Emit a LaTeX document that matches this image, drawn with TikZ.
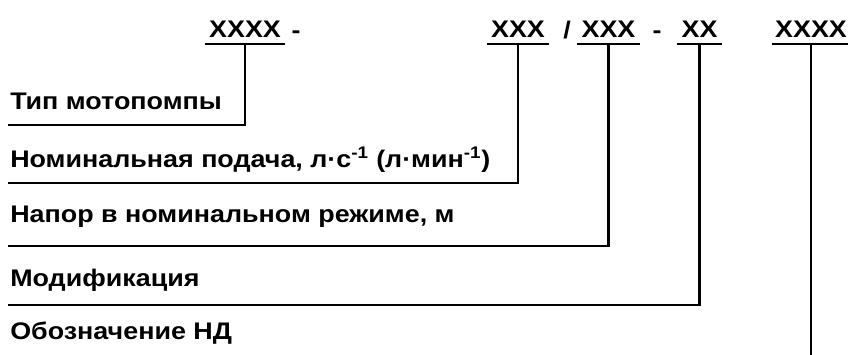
\documentclass[tikz,border=0pt]{standalone}
\usepackage{fontspec}
\setmainfont[FakeStretch=1.12]{Liberation Sans}
\begin{document}
\begin{tikzpicture}[x=0.75pt,y=-0.75pt,
  rule/.style={line width=1.6pt},
  txt/.style={font=\fontsize{18}{20}\selectfont\bfseries, inner sep=0pt},
  code/.style={txt, anchor=south, inner ysep=5pt, text depth=0pt},
  sepmark/.style={txt, anchor=base},
  lbl/.style={txt, anchor=base west}]
\useasboundingbox (0,0) rectangle (848,354);

% designation fields, each underlined
\node[code, minimum width=60pt]    (c1) at (245,44)   {XXXX};
\node[code, minimum width=46.5pt]  (c2) at (518,44)   {XXX};
\node[code, minimum width=47.25pt] (c3) at (608.5,44) {XXX};
\node[code, minimum width=33.75pt] (c4) at (699.5,44) {XX};
\node[code, minimum width=58.5pt]  (c5) at (811,44)   {XXXX};

% separators between fields
\node[sepmark] (s1) at (296,38) {-};
\node[sepmark] (s2) at (567,38) {/};
\node[sepmark] (s3) at (657,38) {-};

% explanations
\node[lbl] (t1) at (10,109) {Тип мотопомпы};
\node[lbl] (t2) at (10,167) {Номинальная подача, л·с\textsuperscript{-1} (л·мин\textsuperscript{-1})};
\node[lbl] (t3) at (10,222) {Напор в номинальном режиме, м};
\node[lbl] (t4) at (10,286) {Модификация};
\node[lbl] (t5) at (10,339) {Обозначение НД};

% ends of the leader lines
\coordinate (e1) at (8,125);
\coordinate (e2) at (8,183);
\coordinate (e3) at (8,246);
\coordinate (e4) at (8,305);
\coordinate (e5) at (811,356);

\foreach \i in {1,...,5} {
  \draw[rule] (c\i.south west) -- (c\i.south east);
}
\foreach \i in {1,...,4} {
  \draw[rule] (c\i.south) |- (e\i);
}
\draw[rule] (c5.south) -- (e5);
\end{tikzpicture}
\end{document}
